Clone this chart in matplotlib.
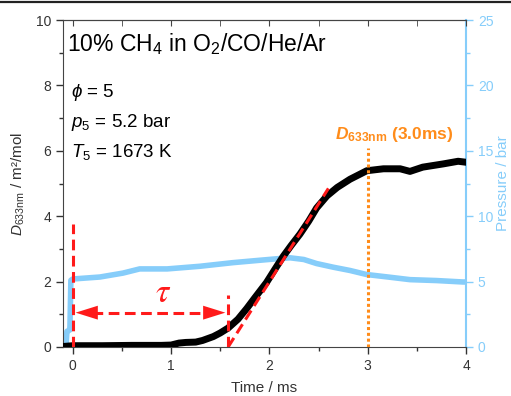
import matplotlib
matplotlib.use("Agg")
import matplotlib.pyplot as plt
from matplotlib.lines import Line2D
import numpy as np

plt.rcParams['font.family'] = ['Liberation Sans', 'DejaVu Sans']
plt.rcParams['mathtext.fontset'] = 'custom'
plt.rcParams['mathtext.rm'] = 'Liberation Sans'
plt.rcParams['mathtext.it'] = 'Liberation Sans:italic'
plt.rcParams['mathtext.bf'] = 'Liberation Sans:bold'
plt.rcParams['mathtext.bfit'] = 'Liberation Sans:italic:bold'

# ---- data ----
t_D = [-0.08, 0.0, 0.3, 0.6, 0.9, 1.0, 1.08, 1.15, 1.25, 1.32, 1.43, 1.5, 1.58,
       1.68, 1.77, 1.85, 1.97, 2.05, 2.14, 2.22, 2.31, 2.40, 2.48, 2.585, 2.69,
       2.82, 2.99, 3.16, 3.33, 3.43, 3.56, 3.77, 3.92, 4.0]
D633 = [0.02, 0.04, 0.04, 0.05, 0.05, 0.06, 0.12, 0.14, 0.15, 0.2, 0.32, 0.43, 0.58,
        0.85, 1.18, 1.5, 1.97, 2.35, 2.77, 3.1, 3.45, 3.85, 4.25, 4.62, 4.88,
        5.13, 5.39, 5.45, 5.45, 5.37, 5.5, 5.6, 5.68, 5.65]

t_p = [-0.1, -0.07, -0.06, -0.03, -0.02, 0.0, 0.275, 0.51, 0.68, 0.96, 1.29, 1.63,
       1.9, 2.07, 2.21, 2.35, 2.48, 2.65, 2.82, 2.99, 3.23, 3.43, 3.7, 3.97, 4.0]
pressure = [0, 0, 1.2, 1.3, 5.1, 5.2, 5.35, 5.65, 5.97, 5.97, 6.17, 6.45,
            6.63, 6.74, 6.82, 6.69, 6.38, 6.1, 5.85, 5.54, 5.33, 5.15, 5.08, 4.97, 4.97]

t_tangent = [1.58, 2.6]
D_tangent = [0.0, 4.85]

tau = 1.58
t_eval = 3.0

blue = '#86CDFA'
red = '#FF1A1A'
orange = '#FF8C1A'
dark = '#333333'

fig = plt.figure(figsize=(5.11, 3.96), dpi=100)
ax = fig.add_axes([63/511, 1-347/396, (466-63)/511, (347-20)/396])
ax2 = ax.twinx()
ax.set_zorder(ax2.get_zorder() + 1)
ax.patch.set_visible(False)

# pressure on right axis
ax2.plot(t_p, pressure, color=blue, lw=4, solid_joinstyle='round')
ax2.set_ylim(0, 25)
ax2.set_yticks([0, 5, 10, 15, 20, 25])
ax2.set_yticks(np.arange(2.5, 25, 5), minor=True)
ax2.tick_params(axis='y', which='both', colors=blue, labelsize=10, direction='out')
ax2.tick_params(axis='y', which='major', length=5, width=1)
ax2.tick_params(axis='y', which='minor', length=3, width=1)
ax2.set_ylabel('Pressure / bar', color=blue, fontsize=11, labelpad=2)
ax2.spines['right'].set_color(blue)
ax2.spines['right'].set_linewidth(1.5)
for s in ['left', 'top', 'bottom']:
    ax2.spines[s].set_visible(False)

# D633nm on left axis
ax.plot(t_D, D633, color='black', lw=5, solid_joinstyle='round', zorder=3)
ax.plot(t_tangent, D_tangent, color=red, lw=2.2, ls=(0, (3.5, 1.8)), zorder=4)

# induction time markers
ax.plot([0, 0], [0, 3.75], color=red, lw=2.2, ls=(0, (3.5, 1.8)), zorder=4)
ax.plot([tau, tau], [0, 1.6], color=red, lw=2.2, ls=(0, (3.5, 1.8)), zorder=4)
ax.plot([0.2, tau - 0.2], [1.05, 1.05], color=red, lw=2.2, ls=(0, (3.5, 1.8)), zorder=4)
arrow_style = '-|>,head_length=1.6,head_width=0.5'
ax.annotate('', xy=(0, 1.05), xytext=(0.25, 1.05),
            arrowprops=dict(arrowstyle=arrow_style, color=red, lw=0, mutation_scale=10), zorder=5)
ax.annotate('', xy=(tau, 1.05), xytext=(tau - 0.25, 1.05),
            arrowprops=dict(arrowstyle=arrow_style, color=red, lw=0, mutation_scale=10), zorder=5)
ax.text(0.92, 1.65, r'$\tau$', color=red, fontsize=24, ha='center', va='center',
        math_fontfamily='stix')

# evaluation time
ax.plot([t_eval, t_eval], [0, 6.1], color=orange, lw=2.2, ls=(0, (1, 0.9)), zorder=4)
ax.text(2.67, 6.2, r'$\mathbfit{D}_{\mathbf{633nm}}$ (3.0ms)', color=orange,
        fontsize=12.5, fontweight='bold', ha='left', va='bottom')

# annotation text
ax.text(-0.06, 9.25, r'10% CH$_4$ in O$_2$/CO/He/Ar', fontsize=16.5, ha='left', va='center')
ax.text(-0.02, 7.77, r'$\phi$ = 5', fontsize=13.5, ha='left', va='center')
ax.text(-0.02, 6.88, r'$p_5$ = 5.2 bar', fontsize=13.5, ha='left', va='center')
ax.text(-0.02, 5.96, r'$T_5$ = 1673 K', fontsize=13.5, ha='left', va='center')

ax.set_xlim(-0.1, 4)
ax.set_ylim(0, 10)
ax.set_xticks([0, 1, 2, 3, 4])
ax.set_xticks(np.arange(0.5, 4, 1), minor=True)
ax.set_yticks([0, 2, 4, 6, 8, 10])
ax.set_yticks(np.arange(1, 10, 2), minor=True)
ax.tick_params(which='both', direction='out', colors=dark, labelsize=10, width=1)
ax.tick_params(which='major', length=5)
ax.tick_params(which='minor', length=3)
ax.set_xlabel('Time / ms', fontsize=11, color=dark, labelpad=6)
ax.set_ylabel(r'$D_{\rm 633nm}$ / m²/mol', fontsize=11, color=dark, labelpad=6)
for s in ['left', 'bottom', 'top']:
    ax.spines[s].set_color('#444444')
ax.spines['right'].set_visible(False)

top = ax.secondary_xaxis('top')
top.set_xticks([0, 1, 2, 3, 4])
top.set_xticks(np.arange(0.5, 4, 1), minor=True)
top.tick_params(which='both', direction='in', length=4, labeltop=False, colors='#444444')
top.spines['top'].set_color('#444444')

# border line at the top of the figure
fig.add_artist(Line2D([0, 1], [0.995, 0.995], transform=fig.transFigure,
                      color='#222222', lw=1.6))

fig.savefig('out.png', dpi=100)
